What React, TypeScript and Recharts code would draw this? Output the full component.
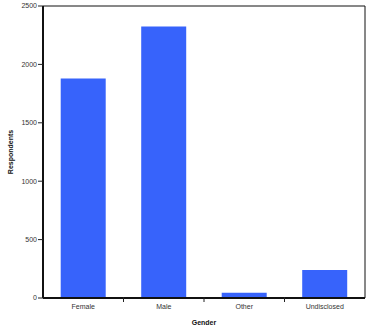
import React from 'react';
import { BarChart, Bar, XAxis, YAxis, ReferenceLine } from 'recharts';

const genders = ['Female', 'Male', 'Other', 'Undisclosed'];
const respondents = [1880, 2325, 45, 240];
const yTicks = [0, 500, 1000, 1500, 2000, 2500];

const data = genders.map((gender, i) => ({ gender, count: respondents[i] }));

const font = '"Liberation Sans", Arial, sans-serif';
const tickStyle = { fill: '#333', fontSize: 7, fontFamily: font };

// category label plus a small tick on the left band edge (skipped for the first band)
const GenderTick = (props: any) => {
  const { x, y, payload, index } = props;
  const half = payload.offset || 0;
  return (
    <g>
      {index > 0 && (
        <line x1={x - half} x2={x - half} y1={y - 1} y2={y + 4} stroke="#222" strokeWidth={1} />
      )}
      <text x={x} y={y + 11} textAnchor="middle" fill="#333" fontSize={7} fontFamily={font}>
        {payload.value}
      </text>
    </g>
  );
};

const App: React.FC = () => {
  return (
    <div style={{ position: 'absolute', left: 0, top: 0, width: 371, height: 328, background: '#fff' }}>
      <BarChart
        width={371}
        height={328}
        data={data}
        margin={{ top: 6, right: 6, left: 0, bottom: 0 }}
        barCategoryGap="22%"
      >
        <XAxis
          dataKey="gender"
          tickLine={false}
          tickSize={0}
          tickMargin={0}
          axisLine={{ stroke: '#111', strokeWidth: 2 }}
          tick={<GenderTick />}
          interval={0}
          height={30}
          label={{
            value: 'Gender',
            position: 'insideBottom',
            offset: 3,
            style: { fill: '#111', fontSize: 7, fontWeight: 'bold', fontFamily: font },
          }}
        />
        <YAxis
          domain={[0, 2500]}
          ticks={yTicks}
          width={43}
          tickSize={5}
          tickMargin={1}
          tick={tickStyle}
          tickLine={{ stroke: '#222' }}
          axisLine={{ stroke: '#111', strokeWidth: 2 }}
          label={{
            value: 'Respondents',
            angle: -90,
            position: 'insideLeft',
            offset: 11,
            style: { textAnchor: 'middle', fill: '#111', fontSize: 7, fontWeight: 'bold', fontFamily: font },
          }}
        />
        <ReferenceLine y={2500} stroke="#111" strokeWidth={1} ifOverflow="extendDomain" />
        <ReferenceLine x="Undisclosed" stroke="#111" strokeWidth={1} position="end" />
        <Bar dataKey="count" fill="#3763fb" isAnimationActive={false} />
      </BarChart>
    </div>
  );
};

export default App;
